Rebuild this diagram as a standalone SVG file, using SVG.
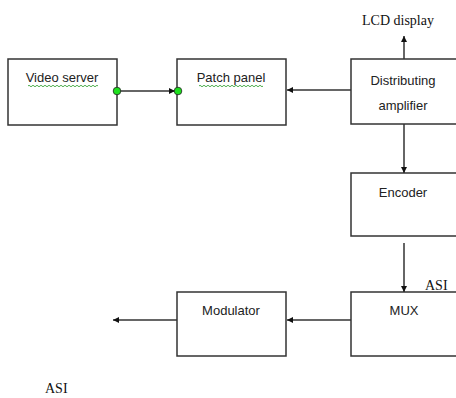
<svg xmlns="http://www.w3.org/2000/svg" width="456" height="398" viewBox="0 0 456 398">
  <defs>
    <marker id="arrow" viewBox="0 0 10 10" refX="10" refY="5" markerWidth="6" markerHeight="6" markerUnits="userSpaceOnUse" orient="auto">
      <path d="M0,0 L10,5 L0,10 z" fill="#111"/>
    </marker>
    <style>
      .box { fill: #fff; stroke: #333; stroke-width: 1.5; }
      .edge { fill: none; stroke: #333; stroke-width: 1.5; marker-end: url(#arrow); }
      .lbl { font-family: "Liberation Sans", Arial, sans-serif; font-size: 13px; fill: #222; text-anchor: middle; }
      .note { font-family: "Liberation Serif", "Times New Roman", serif; font-size: 14px; fill: #111; }
      .squiggle { fill: none; stroke: #3aa43a; stroke-width: 0.9; }
      .port { fill: #1ee01e; stroke: #222; stroke-width: 0.8; }
    </style>
  </defs>
  <rect width="456" height="398" fill="#fff"/>

  <g id="video-server">
    <rect class="box" x="8" y="59" width="109" height="66"/>
    <text class="lbl" x="62" y="82">Video server</text>
    <path class="squiggle" d="M28,86 q1,-1.5 2,0 t2,0 t2,0 t2,0 t2,0 t2,0 t2,0 t2,0 t2,0 t2,0 t2,0 t2,0 t2,0 t2,0 t2,0 t2,0 t2,0 t2,0 t2,0 t2,0 t2,0 t2,0 t2,0 t2,0 t2,0 t2,0 t2,0 t2,0 t2,0 t2,0 t2,0 t2,0 t2,0 t2,0 t2,0"/>
  </g>

  <g id="patch-panel">
    <rect class="box" x="177" y="59" width="109" height="66"/>
    <text class="lbl" x="231" y="82">Patch panel</text>
    <path class="squiggle" d="M199,86 q1,-1.5 2,0 t2,0 t2,0 t2,0 t2,0 t2,0 t2,0 t2,0 t2,0 t2,0 t2,0 t2,0 t2,0 t2,0 t2,0 t2,0 t2,0 t2,0 t2,0 t2,0 t2,0 t2,0 t2,0 t2,0 t2,0 t2,0 t2,0 t2,0 t2,0 t2,0 t2,0 t2,0"/>
  </g>

  <g id="distributing-amplifier">
    <rect class="box" x="351" y="59" width="112" height="65"/>
    <text class="lbl" x="403" y="85">Distributing</text>
    <text class="lbl" x="403" y="110">amplifier</text>
  </g>

  <g id="lcd-display">
    <text class="note" x="362" y="25">LCD display</text>
  </g>

  <g id="encoder">
    <rect class="box" x="351" y="173" width="112" height="63"/>
    <text class="lbl" x="403" y="197">Encoder</text>
  </g>

  <g id="mux">
    <rect class="box" x="351" y="292" width="112" height="64"/>
    <text class="lbl" x="404" y="315">MUX</text>
    <text class="note" x="425" y="290">ASI</text>
  </g>

  <g id="modulator">
    <rect class="box" x="177" y="292" width="109" height="64"/>
    <text class="lbl" x="231" y="315">Modulator</text>
  </g>

  <g id="asi-out">
    <text class="note" x="45" y="393">ASI</text>
  </g>

  <!-- connectors, drawn over the box edges so ports and arrowheads show -->
  <g id="connectors">
    <line class="edge" x1="117" y1="91" x2="175" y2="91"/>
    <line class="edge" x1="351" y1="90" x2="287" y2="90"/>
    <line class="edge" x1="404" y1="59" x2="404" y2="36"/>
    <line class="edge" x1="404" y1="124" x2="404" y2="173"/>
    <line class="edge" x1="404" y1="243" x2="404" y2="292"/>
    <line class="edge" x1="351" y1="320" x2="287" y2="320"/>
    <line class="edge" x1="177" y1="320" x2="113" y2="320"/>
    <circle class="port" cx="117" cy="91" r="3.8"/>
    <circle class="port" cx="178" cy="91" r="3.8"/>
  </g>
</svg>
